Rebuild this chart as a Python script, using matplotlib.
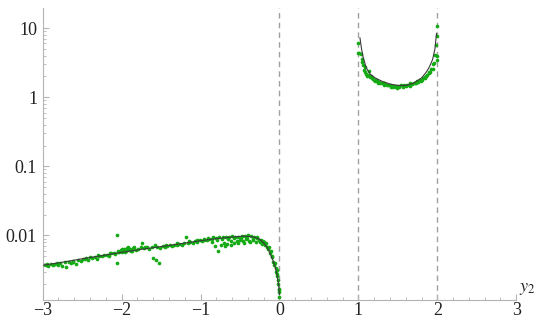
import matplotlib
matplotlib.use("Agg")
import matplotlib.pyplot as plt
from matplotlib.ticker import FixedLocator, NullFormatter

plt.rcParams['font.family'] = ['Liberation Serif', 'DejaVu Serif']
plt.rcParams['mathtext.fontset'] = 'stix'

# smooth reference curve, left branch (y2 < 0)
curve_left_x = [-3.0, -2.75, -2.5, -2.25, -2.0, -1.75, -1.5, -1.25, -1.0, -0.8, -0.6,
                -0.45, -0.35, -0.3, -0.25, -0.2, -0.15, -0.12, -0.09, -0.06, -0.03, -0.01, 0.0]
curve_left_y = [0.0037, 0.0041, 0.0046, 0.0051, 0.0057, 0.0063, 0.0069, 0.0076, 0.0084, 0.0090, 0.0095,
                0.0098, 0.0096, 0.0093, 0.0088, 0.0078, 0.0066, 0.0055, 0.0046, 0.0037, 0.0027, 0.0019, 0.0014]

# smooth reference curve, right branch (1 < y2 < 2)
curve_right_x = [1.02, 1.04, 1.06, 1.1, 1.15, 1.22, 1.3, 1.4, 1.5, 1.6, 1.7, 1.8, 1.86, 1.9, 1.94, 1.97, 1.99]
curve_right_y = [7.2, 5.0, 3.8, 2.65, 2.15, 1.88, 1.7, 1.55, 1.48, 1.48, 1.6, 1.9, 2.3, 2.75, 3.5, 5.0, 8.4]

# sampled points, left branch
pts_left_x = [-2.99, -2.96, -2.93, -2.90, -2.87, -2.84, -2.81, -2.78, -2.75, -2.72, -2.70, -2.67,
              -2.64, -2.61, -2.58, -2.55, -2.52, -2.49, -2.46, -2.43, -2.40, -2.37, -2.34, -2.31,
              -2.28, -2.25, -2.22, -2.19, -2.16, -2.13, -2.10, -2.08, -2.06, -2.06, -2.05, -2.03,
              -2.01, -1.99, -1.97, -1.95, -1.93, -1.91, -1.89, -1.87, -1.85, -1.82, -1.79, -1.76,
              -1.74, -1.71, -1.68, -1.65, -1.62, -1.60, -1.57, -1.55, -1.53, -1.51, -1.48, -1.45,
              -1.42, -1.39, -1.36, -1.33, -1.30, -1.27, -1.24, -1.21, -1.18, -1.16, -1.13, -1.10,
              -1.07, -1.04, -1.01, -0.98, -0.95, -0.92, -0.89, -0.86, -0.84, -0.82, -0.80, -0.78,
              -0.76, -0.74, -0.72, -0.70, -0.68, -0.66, -0.64, -0.62, -0.60, -0.58, -0.56, -0.54,
              -0.52, -0.50, -0.48, -0.46, -0.44, -0.42, -0.40, -0.38, -0.36, -0.34, -0.32, -0.30,
              -0.28, -0.26, -0.24, -0.22, -0.20, -0.18, -0.16, -0.14, -0.12, -0.10, -0.08, -0.07,
              -0.05, -0.04, -0.03, -0.02, -0.015, -0.01, -0.005, 0.0,
              # extra points scattered around the curve
              -2.94, -2.82, -2.62, -2.45, -2.30, -2.15, -2.04, -2.00, -1.96, -1.92, -1.88, -1.84,
              -1.70, -1.58, -1.44, -1.30, -1.15, -1.05, -0.96, -0.90, -0.85, -0.79, -0.73, -0.69,
              -0.65, -0.61, -0.57, -0.53, -0.49, -0.45, -0.41, -0.37, -0.33, -0.29, -0.25, -0.21,
              -0.17, -0.13, -0.11, -0.09, -0.06, -0.035, -0.025, -0.008]
pts_left_y = [0.0037, 0.0038, 0.0036, 0.0039, 0.0038, 0.0039, 0.0038, 0.0040, 0.0036, 0.0041, 0.0035, 0.0041,
              0.0040, 0.0042, 0.0039, 0.0044, 0.0043, 0.0046, 0.0045, 0.0044, 0.0048, 0.0047, 0.0049, 0.0046,
              0.0051, 0.0050, 0.0053, 0.0052, 0.0050, 0.0055, 0.0056, 0.0054, 0.0100, 0.0040, 0.0060, 0.0057,
              0.0062, 0.0058, 0.0063, 0.0060, 0.0065, 0.0061, 0.0064, 0.0059, 0.0066, 0.0062, 0.0064, 0.0068,
              0.0077, 0.0065, 0.0067, 0.0063, 0.0068, 0.0047, 0.0044, 0.0069, 0.0040, 0.0066, 0.0071, 0.0069,
              0.0070, 0.0073, 0.0071, 0.0074, 0.0072, 0.0076, 0.0074, 0.0078, 0.0095, 0.0077, 0.0080, 0.0078,
              0.0082, 0.0080, 0.0085, 0.0083, 0.0087, 0.0085, 0.0090, 0.0088, 0.0094, 0.0070, 0.0091, 0.0060,
              0.0095, 0.0073, 0.0094, 0.0078, 0.0096, 0.0075, 0.0094, 0.0082, 0.0097, 0.0079, 0.0095, 0.0084,
              0.0096, 0.0086, 0.0097, 0.0082, 0.0098, 0.0088, 0.0100, 0.0084, 0.0099, 0.0089, 0.0095, 0.0080,
              0.0092, 0.0085, 0.0087, 0.0076, 0.0081, 0.0074, 0.0068, 0.0063, 0.0056, 0.0050, 0.0042, 0.0038,
              0.0034, 0.0030, 0.0026, 0.0023, 0.0020, 0.0017, 0.0015, 0.0013,
              0.0039, 0.0040, 0.0043, 0.0047, 0.0052, 0.0056, 0.0058, 0.0064, 0.0057, 0.0068, 0.0060, 0.0067,
              0.0069, 0.0072, 0.0074, 0.0077, 0.0083, 0.0087, 0.0089, 0.0093, 0.0080, 0.0086, 0.0090, 0.0070,
              0.0090, 0.0074, 0.0091, 0.0077, 0.0091, 0.0079, 0.0093, 0.0081, 0.0087, 0.0096, 0.0080, 0.0083,
              0.0078, 0.0067, 0.0060, 0.0048, 0.0040, 0.0032, 0.0028, 0.0016]

# sampled points, right branch
pts_right_x = [1.00, 1.00, 1.01, 1.03, 1.05, 1.06, 1.07, 1.08, 1.09, 1.10, 1.12, 1.13, 1.15, 1.16,
               1.18, 1.20, 1.22, 1.24, 1.26, 1.28, 1.30, 1.32, 1.34, 1.36, 1.38, 1.40, 1.42, 1.44,
               1.46, 1.48, 1.50, 1.52, 1.54, 1.56, 1.58, 1.60, 1.62, 1.64, 1.66, 1.68, 1.70, 1.72,
               1.74, 1.76, 1.78, 1.80, 1.82, 1.84, 1.86, 1.87, 1.89, 1.91, 1.92, 1.94, 1.95, 1.96,
               1.97, 1.98, 1.99, 2.00, 2.00, 2.00,
               1.04, 1.11, 1.17, 1.21, 1.25, 1.33, 1.41, 1.49, 1.57, 1.65, 1.73, 1.79, 1.85, 1.90]
pts_right_y = [6.0, 4.3, 4.4, 4.2, 3.2, 2.9, 2.5, 2.7, 2.3, 2.2, 2.1, 2.4, 1.95, 2.0,
               1.85, 1.8, 1.75, 1.7, 1.68, 1.62, 1.6, 1.58, 1.55, 1.52, 1.5, 1.48, 1.45, 1.42,
               1.47, 1.40, 1.45, 1.42, 1.48, 1.44, 1.5, 1.46, 1.52, 1.5, 1.58, 1.55, 1.62, 1.6,
               1.7, 1.66, 1.8, 1.78, 1.9, 1.95, 2.05, 2.1, 2.25, 2.35, 2.6, 2.6, 3.0, 3.1,
               4.1, 5.7, 7.6, 3.9, 3.4, 10.8,
               3.6, 2.05, 1.9, 1.72, 1.62, 1.5, 1.42, 1.38, 1.41, 1.47, 1.58, 1.72, 1.9, 2.3]

x_ticks = [-3, -2, -1, 0, 1, 2, 3]
x_tick_labels = ['\u22123', '\u22122', '\u22121', '0', '1', '2', '3']
y_ticks = [0.01, 0.1, 1, 10]
y_tick_labels = ['0.01', '0.1', '1', '10']
dashed_at = [0, 1, 2]

fig = plt.figure(figsize=(5.4, 3.21), dpi=100)
ax = fig.add_axes([0.079, 0.065, 0.877, 0.91])

green = '#14aa14'
axis_gray = '#b5b5b5'

for xv in dashed_at:
    ax.axvline(xv, color='#a0a0a0', lw=1.0, dashes=(4, 3), zorder=1)

ax.scatter(pts_left_x, pts_left_y, s=7, color=green, lw=0, zorder=2)
ax.scatter(pts_right_x, pts_right_y, s=7, color=green, lw=0, zorder=2)
ax.plot(curve_left_x, curve_left_y, color='#3a3a3a', lw=0.8, zorder=3)
ax.plot(curve_right_x, curve_right_y, color='#3a3a3a', lw=0.8, zorder=3)

ax.set_yscale('log')
ax.set_xlim(-3, 3)
ax.set_ylim(0.00116, 19.5)

ax.spines['top'].set_visible(False)
ax.spines['right'].set_visible(False)
ax.spines['left'].set_color(axis_gray)
ax.spines['bottom'].set_color(axis_gray)

ax.xaxis.set_major_locator(FixedLocator(x_ticks))
ax.set_xticklabels(x_tick_labels)
ax.xaxis.set_minor_locator(FixedLocator([v / 5 for v in range(-15, 16) if v % 5 != 0]))
ax.yaxis.set_major_locator(FixedLocator(y_ticks))
ax.set_yticklabels(y_tick_labels)
minor_y = [m * 10.0 ** e for e in range(-3, 2) for m in range(2, 10)]
ax.yaxis.set_minor_locator(FixedLocator(minor_y))
ax.yaxis.set_minor_formatter(NullFormatter())

ax.tick_params(which='major', direction='in', length=4, width=0.8, color=axis_gray,
               labelsize=13, labelcolor='#222222')
ax.tick_params(axis='x', which='major', pad=1)
ax.tick_params(axis='y', which='major', pad=4)
ax.tick_params(which='minor', direction='in', length=2, width=0.6, color=axis_gray)

fig.text(0.962, 0.094, '$y_2$', fontsize=13, color='#222222')

fig.savefig('out.png', dpi=100)
